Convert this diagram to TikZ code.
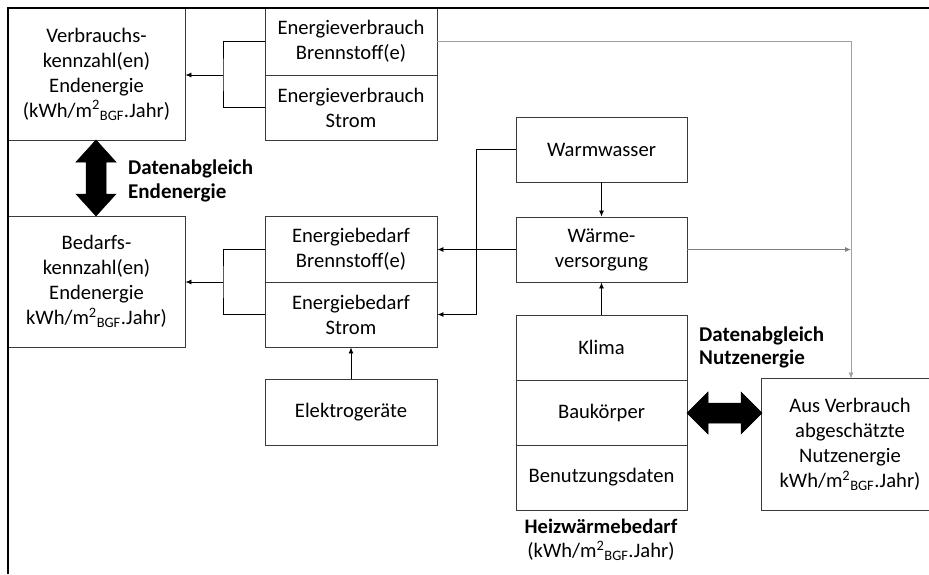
\documentclass[tikz,border=0pt]{standalone}
\usepackage{fontspec}
\setmainfont{Carlito}
\usetikzlibrary{arrows.meta}
\definecolor{boxline}{HTML}{3A3A3A}
\definecolor{lightline}{HTML}{A0A0A0}
\tikzset{
  box/.style={draw=boxline, line width=0.9pt, rectangle, inner sep=0pt, align=center,
    font=\fontsize{20.6}{25}\selectfont, text=black},
  arr/.style={-{Latex[length=6pt,width=5pt]}, line width=0.8pt},
  conn/.style={line width=0.8pt, draw=black},
  glabel/.style={align=left, font=\fontsize{21}{23.5}\selectfont\bfseries, inner sep=0pt},
  bigarrow/.style={fill=black, draw=black, line width=0.5pt}
}
\newcommand{\kwhunit}{kWh/m\textsuperscript{2}\textsubscript{BGF}.Jahr)}
\begin{document}
\begin{tikzpicture}[x=1pt,y=-1pt]
\path[use as bounding box] (0,0) rectangle (929,574);
\fill[white] (0,0) rectangle (929,574);

% boxes
\node[box, minimum width=177pt, minimum height=132pt] (vk) at (96.5,74) {Verbrauchs-\\kennzahl(en)\\Endenergie\\(\kwhunit};
\node[box, minimum width=172pt, minimum height=67pt] (evb) at (351,41.5) {Energieverbrauch\\Brennstoff(e)};
\node[box, minimum width=172pt, minimum height=65pt] (evs) at (351,107.5) {Energieverbrauch\\Strom};
\node[box, minimum width=177pt, minimum height=131pt] (bk) at (96.5,281.5) {Bedarfs-\\kennzahl(en)\\Endenergie\\\kwhunit};
\node[box, minimum width=172pt, minimum height=66pt] (ebb) at (351,249) {Energiebedarf\\Brennstoff(e)};
\node[box, minimum width=172pt, minimum height=65pt] (ebs) at (351,314.5) {Energiebedarf\\Strom};
\node[box, minimum width=172pt, minimum height=66pt] (elek) at (351,412) {Elektroger\"ate};
\node[box, minimum width=171pt, minimum height=65pt] (ww) at (601.5,149.5) {Warmwasser};
\node[box, minimum width=171pt, minimum height=65pt] (wv) at (601.5,249.5) {W\"arme-\\versorgung};
\node[box, minimum width=171pt, minimum height=65pt] (klima) at (601.5,347.5) {Klima};
\node[box, minimum width=171pt, minimum height=65pt] (bau) at (601.5,412.5) {Bauk\"orper};
\node[box, minimum width=171pt, minimum height=65pt] (ben) at (601.5,477.5) {Benutzungsdaten};
\node[box, draw=none, minimum width=176pt, minimum height=131pt] (nutz) at (850,444.5) {Aus Verbrauch\\abgesch\"atzte\\Nutzenergie\\\kwhunit};
\coordinate (redge) at (929,0);
\draw[draw=boxline, line width=0.9pt] (nutz.north -| redge) -- (nutz.north west) -- (nutz.south west) -- (nutz.south -| redge);

% labels
\node[glabel, anchor=west] (lend) at (128,181) {Datenabgleich\\Endenergie};
\node[glabel, anchor=west] (lnutz) at (699,347.5) {Datenabgleich\\Nutzenergie};
\node[align=center, inner sep=0pt, font=\fontsize{20.6}{24}\selectfont] (heiz) at (601,540) {\textbf{Heizw\"armebedarf}\\(\kwhunit};

% junctions
\coordinate (j1) at (223,75);
\coordinate (j2) at (223,282);
\coordinate (j3) at (476,0);
\coordinate (j4) at (851,0);

% connectors
\draw[conn] (evb.west) -| (j1) |- (evs.west);
\draw[arr] (j1) -- (j1 -| vk.east);
\draw[conn] (ebb.west) -| (j2) |- (ebs.west);
\draw[arr] (j2) -- (j2 -| bk.east);
\draw[arr] (ww.west) -| (j3 |- ebs.east) -- (ebs.east);
\draw[arr] (wv.west) -- (wv.west -| ebb.east);
\draw[arr] (ww.south) -- (wv.north);
\draw[arr] (klima.north) -- (wv.south);
\draw[arr] (elek.north) -- (ebs.south);
\draw[arr, draw=lightline] (evb.east) -| (j4 |- nutz.north);
\draw[arr, draw=gray] (wv.east) -- (wv.east -| j4);

% big double arrows
\draw[bigarrow] (96,140) -- (116,162) -- (106,162) -- (106,194) -- (116,194) -- (96,216)
  -- (76,194) -- (86,194) -- (86,162) -- (76,162) -- cycle;
\draw[bigarrow] (687,413) -- (708,392) -- (708,403) -- (741,403) -- (741,392) -- (762,413)
  -- (741,434) -- (741,423) -- (708,423) -- (708,434) -- cycle;

% frame
\draw[line width=2.5pt, black] (8,574) -- (8,8) -- (929,8);
\end{tikzpicture}
\end{document}
